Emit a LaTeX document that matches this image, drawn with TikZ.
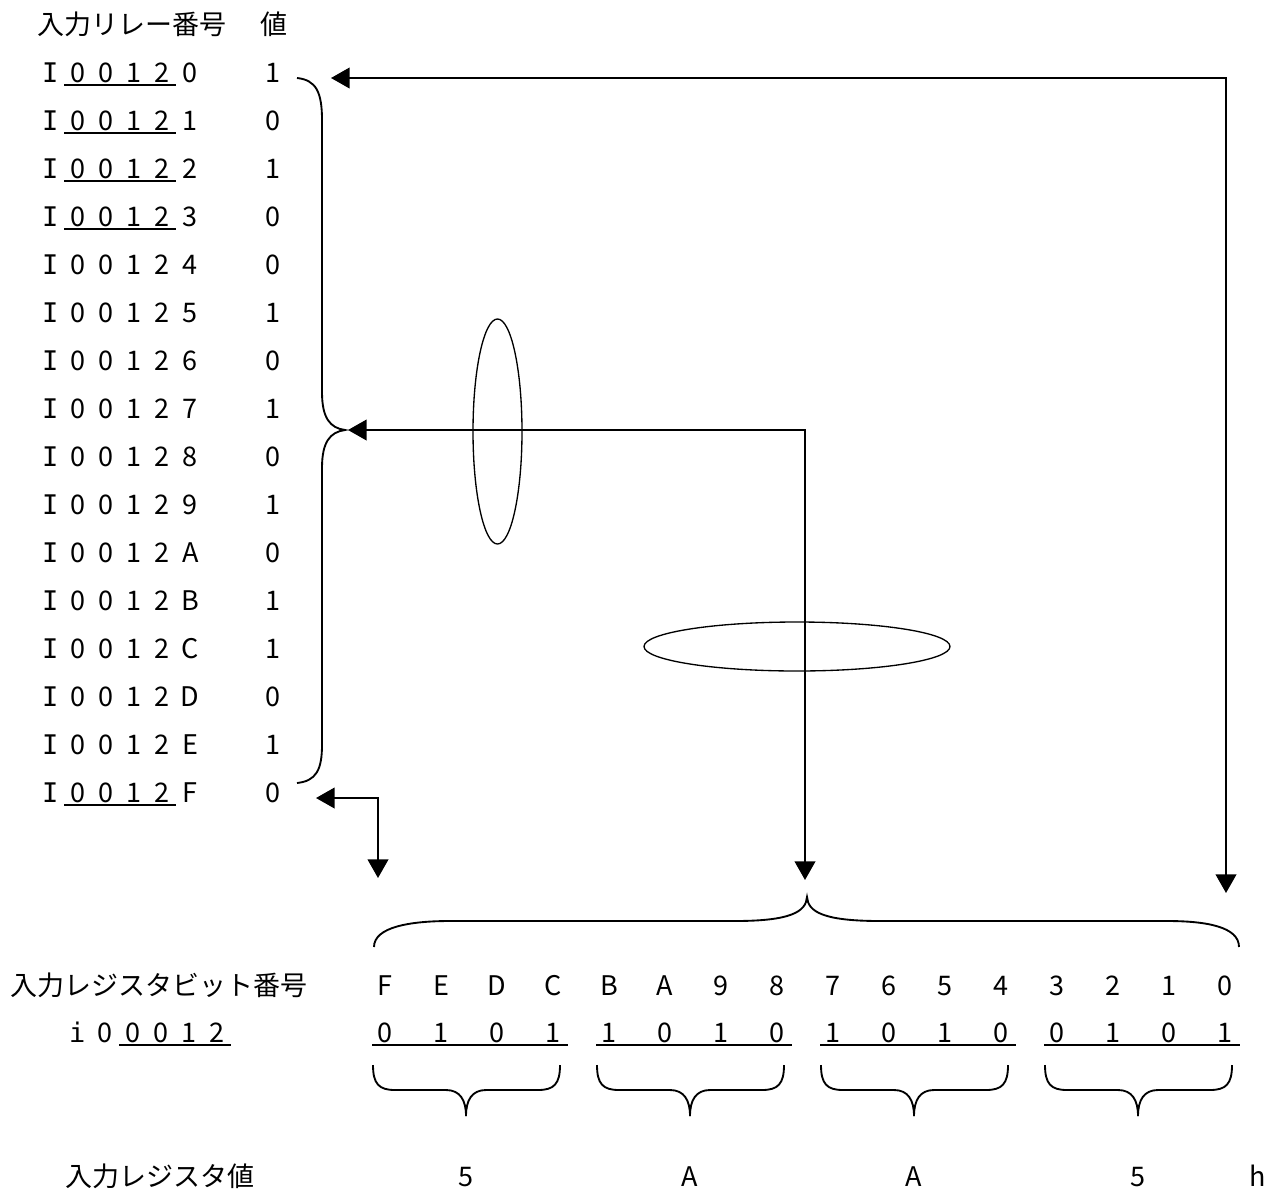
\documentclass[tikz,border=0pt]{standalone}
\usepackage{fontspec}
\setmainfont{Noto Sans CJK JP}
\newfontfamily\monofont{DejaVu Sans Mono}
\usetikzlibrary{arrows.meta,shapes.geometric,calc}
\newcommand\cbox[1]{\makebox[21pt]{#1}}
\begin{document}
\begin{tikzpicture}[x=0.75pt,y=-0.75pt,
  font=\fontsize{20.25pt}{24pt}\selectfont,
  lbl/.style={inner sep=0pt, anchor=base},
  jp/.style={inner sep=0pt, anchor=center},
  tri/.tip={Triangle[length=14pt,width=15.5pt]},
  arr/.style={line width=1.5pt, tri-tri},
  brc/.style={line width=1.4pt},
  ul/.style={line width=1.4pt},
  ell/.style={draw, ellipse, line width=1pt, inner sep=0pt}]
\useasboundingbox (0,0) rectangle (1274,1189);

% header
\node[jp] (hdr) at (132,24) {入力リレー番号};
\node[jp] (hval) at (274,24) {値};

% relay rows
\foreach \h/\v [count=\k from 0] in {0/1,1/0,2/1,3/0,4/0,5/1,6/0,7/1,8/0,9/1,A/0,B/1,C/1,D/0,E/1,F/0} {
  \pgfmathsetmacro\yb{82+48*\k}
  \node[lbl, anchor=base west] (row\k) at (36,\yb)
    {\cbox{\monofont I}\cbox{0}\cbox{0}\cbox{1}\cbox{2}\cbox{\h}};
  \node[lbl] (val\k) at (273,\yb) {\v};
}
\foreach \k in {0,1,2,3,15} {
  \draw[ul] (64,{85+48*\k}) -- (176,{85+48*\k});
}

% left brace
\coordinate (lt) at (345,430);
\draw[brc] (297,78) .. controls (316,80) and (322,92) .. (322,120) -- (322,392)
  .. controls (322,418) and (330,428) .. (lt)
  .. controls (330,432) and (322,442) .. (322,468) -- (322,745)
  .. controls (322,770) and (316,781) .. (297,783);

% ellipses
\node[ell, minimum width=36.75pt, minimum height=168.75pt] (e1) at (497.5,431.5) {};
\node[ell, minimum width=229.5pt, minimum height=36.75pt] (e2) at (797,646.5) {};

% arrows
\coordinate (a1) at (331,78);  \coordinate (a1e) at (1226,893);
\draw[arr] (a1) -- (a1 -| a1e) -- (a1e);
\coordinate (a2) at (348,430); \coordinate (a2e) at (805,880);
\draw[arr] (a2) -- (a2 -| a2e) -- (a2e);
\coordinate (a3) at (316,798); \coordinate (a3e) at (378,878);
\draw[arr] (a3) -- (a3 -| a3e) -- (a3e);

% big top brace
\coordinate (tt) at (807,897);
\draw[brc] (374,947) .. controls (374,927) and (410,921) .. (450,921) -- (735,921)
  .. controls (790,921) and (806,912) .. (tt)
  .. controls (808,912) and (824,921) .. (880,921) -- (1167,921)
  .. controls (1207,921) and (1239,927) .. (1239,947);

% register labels
\node[jp] (rbl) at (159,985) {入力レジスタビット番号};
\node[lbl, anchor=base west] (ireg) at (63,1042)
  {\cbox{\monofont i}\cbox{0}\cbox{0}\cbox{0}\cbox{1}\cbox{2}};
\draw[ul] (119,1045) -- (231,1045);

% bits
\foreach \b/\v [count=\k from 0] in {F/0,E/1,D/0,C/1,B/1,A/0,9/1,8/0,7/1,6/0,5/1,4/0,3/0,2/1,1/0,0/1} {
  \pgfmathsetmacro\xb{385+56*\k}
  \node[lbl] (bit\b) at (\xb,995) {\b};
  \node[lbl] (bv\b) at (\xb,1042) {\v};
}
\foreach \g in {0,...,3} {
  \draw[ul] ({372+224*\g},1045) -- ({568+224*\g},1045);
}

% small braces and hex values
\foreach \g/\t in {0/5,1/A,2/A,3/5} {
  \pgfmathsetmacro\xl{373+224*\g}
  \pgfmathsetmacro\xm{466+224*\g}
  \pgfmathsetmacro\xr{560+224*\g}
  \draw[brc] (\xl,1065) .. controls (\xl,1084) and (\xl+6,1090) .. (\xl+22,1090) -- (\xm-20,1090)
    .. controls (\xm-6,1090) and (\xm,1100) .. (\xm,1116);
  \draw[brc] (\xr,1065) .. controls (\xr,1084) and (\xr-6,1090) .. (\xr-22,1090) -- (\xm+20,1090)
    .. controls (\xm+6,1090) and (\xm,1100) .. (\xm,1116);
  \node[lbl] (hex\g) at (\xm,1186) {\t};
}
\node[jp] (rv) at (160,1176) {入力レジスタ値};
\node[lbl] (hh) at (1258,1186) {h};
\end{tikzpicture}
\end{document}
